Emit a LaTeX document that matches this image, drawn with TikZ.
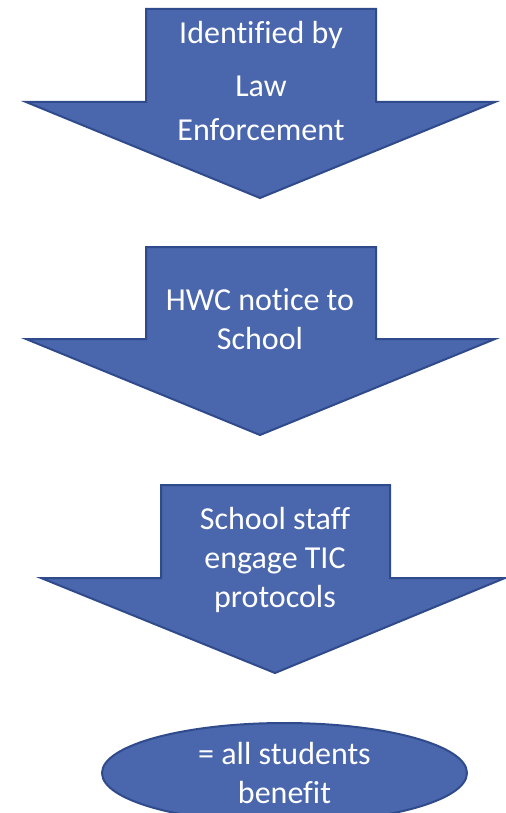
\documentclass[tikz,border=0pt]{standalone}
\usepackage{fontspec}
\setmainfont{Carlito}[Ligatures=NoCommon]
\usetikzlibrary{shapes.geometric}
\definecolor{boxblue}{HTML}{4A66AC}
\definecolor{lineblue}{HTML}{2F4B8C}

\begin{document}
\begin{tikzpicture}[x=0.5pt,y=-0.5pt]
\tikzstyle{every node}=[text=white, font=\fontsize{16}{19.2}\selectfont, align=center, inner sep=0pt];
\tikzstyle{blk}=[fill=boxblue, draw=lineblue, line width=1pt];
\useasboundingbox (0,0) rectangle (505,813);

% arrows, top to bottom
\draw[blk] (146,9) -- (376,9) -- (376,102) -- (495,102) -- (260,198) -- (26,102) -- (146,102) -- cycle;
\draw (261,81) node (s1) {Identified by\\[7.5pt] Law\\[2.5pt] Enforcement};

\draw[blk] (146,247) -- (376,247) -- (376,339) -- (495,339) -- (260,435) -- (26,339) -- (146,339) -- cycle;
\draw (260,319) node (s2) {HWC notice to\\ School};

\draw[blk] (161,485) -- (390,485) -- (390,578) -- (505,578) -- (275,673) -- (41,578) -- (161,578) -- cycle;
\draw (275,560) node (s3) {School staff\\[0.5pt] engage TIC\\[0.5pt] protocols};

% result
\draw (284.5,773) node[ellipse, blk, minimum width=182.5pt, minimum height=50pt] (r) {= all students\\ benefit};

\end{tikzpicture}
\end{document}
